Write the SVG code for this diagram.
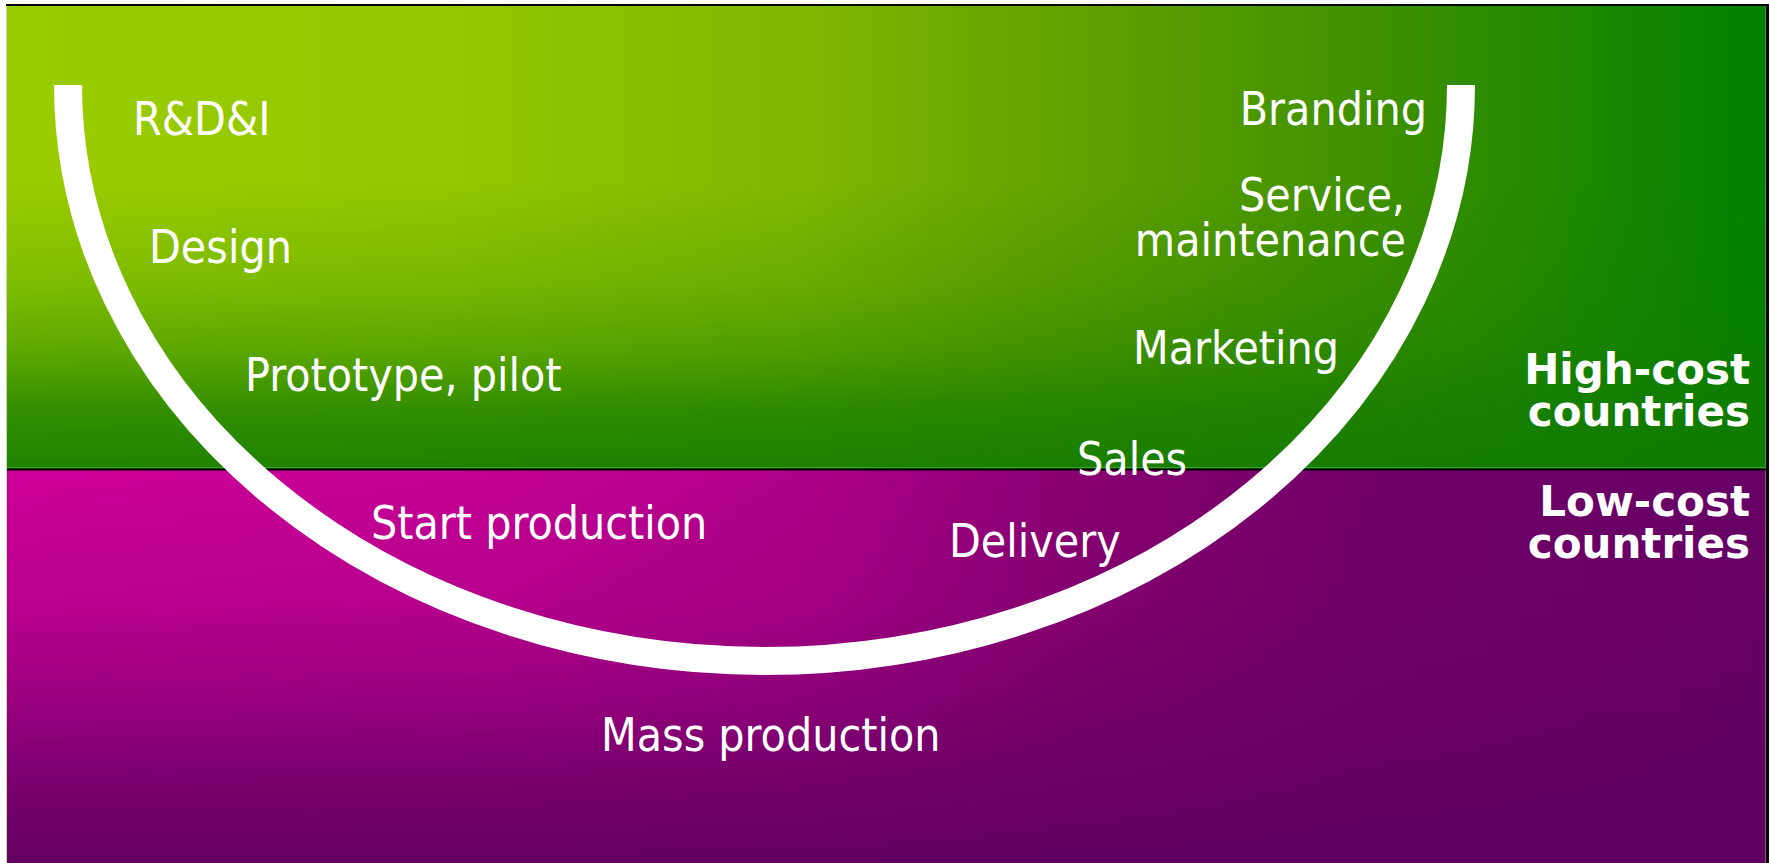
<svg xmlns="http://www.w3.org/2000/svg" width="1770" height="863" viewBox="0 0 1770 863">
  <defs>
    <!-- high-cost band: yellow-green on the left fading to deep green on the right -->
    <linearGradient id="greenH" gradientUnits="userSpaceOnUse" x1="7" y1="0" x2="1766" y2="0">
      <stop offset="0" stop-color="#9acd00"/>
      <stop offset="0.25" stop-color="#93c700"/>
      <stop offset="0.45" stop-color="#80b800"/>
      <stop offset="0.57" stop-color="#69a500"/>
      <stop offset="0.78" stop-color="#3e9000"/>
      <stop offset="1" stop-color="#008000"/>
    </linearGradient>
    <!-- darkening toward the bottom of the green band -->
    <linearGradient id="greenV" gradientUnits="userSpaceOnUse" x1="0" y1="6" x2="0" y2="468">
      <stop offset="0" stop-color="#117a00" stop-opacity="0"/>
      <stop offset="0.38" stop-color="#117a00" stop-opacity="0"/>
      <stop offset="0.6" stop-color="#117a00" stop-opacity="0.2"/>
      <stop offset="0.75" stop-color="#117a00" stop-opacity="0.45"/>
      <stop offset="0.87" stop-color="#117a00" stop-opacity="0.74"/>
      <stop offset="1" stop-color="#117a00" stop-opacity="0.9"/>
    </linearGradient>
    <!-- low-cost band: magenta on the left fading to plum on the right -->
    <linearGradient id="purpleH" gradientUnits="userSpaceOnUse" x1="7" y1="0" x2="1766" y2="0">
      <stop offset="0" stop-color="#cc0099"/>
      <stop offset="0.28" stop-color="#c40094"/>
      <stop offset="0.45" stop-color="#b0008a"/>
      <stop offset="0.6" stop-color="#8a0072"/>
      <stop offset="0.77" stop-color="#720068"/>
      <stop offset="1" stop-color="#660066"/>
    </linearGradient>
    <linearGradient id="purpleV" gradientUnits="userSpaceOnUse" x1="0" y1="470" x2="0" y2="863">
      <stop offset="0" stop-color="#600060" stop-opacity="0"/>
      <stop offset="0.33" stop-color="#600060" stop-opacity="0.15"/>
      <stop offset="0.58" stop-color="#600060" stop-opacity="0.45"/>
      <stop offset="0.79" stop-color="#600060" stop-opacity="0.75"/>
      <stop offset="1" stop-color="#600060" stop-opacity="0.97"/>
    </linearGradient>
  </defs>
  <style>
    .lbl { font-family: "DejaVu Sans Condensed", "Liberation Sans", sans-serif; font-size: 46px; fill: #ffffff; }
    .zone { font-family: "DejaVu Sans", "Verdana", sans-serif; font-weight: bold; font-size: 42px; fill: #ffffff; text-anchor: end; }
    .frame { stroke: #000000; fill: none; }
  </style>

  <!-- background bands -->
  <g id="bands">
    <rect x="7" y="6" width="1759" height="463" fill="url(#greenH)"/>
    <rect x="7" y="6" width="1759" height="463" fill="url(#greenV)"/>
    <rect x="7" y="470" width="1759" height="393" fill="url(#purpleH)"/>
    <rect x="7" y="470" width="1759" height="393" fill="url(#purpleV)"/>
    <line x1="7" y1="467.5" x2="1766" y2="467.5" stroke="#3fa030" stroke-width="1"/>
    <line x1="6.5" y1="6" x2="6.5" y2="863" stroke="#c9d9b0" stroke-width="1"/>
    <line x1="1765.5" y1="6" x2="1765.5" y2="469" stroke="#3c9a30" stroke-width="1"/>
    <line x1="1765.5" y1="470" x2="1765.5" y2="863" stroke="#9a4a96" stroke-width="1"/>
    <line class="frame" x1="6" y1="5" x2="1769" y2="5" stroke-width="2"/>
    <line class="frame" x1="1767.5" y1="4" x2="1767.5" y2="863" stroke-width="3"/>
    <line class="frame" x1="7" y1="469.5" x2="1766" y2="469.5" stroke-width="2"/>
  </g>

  <!-- value curve -->
  <g id="curve">
    <path d="M 68 85 A 696.5 576 0 0 0 1461 85" fill="none" stroke="#ffffff" stroke-width="28" stroke-linecap="butt"/>
  </g>

  <g id="rdi"><text class="lbl" x="133" y="135">R&amp;D&amp;I</text></g>
  <g id="design"><text class="lbl" x="149" y="263">Design</text></g>
  <g id="prototype"><text class="lbl" x="245" y="391">Prototype, pilot</text></g>
  <g id="start-production"><text class="lbl" x="371" y="539">Start production</text></g>
  <g id="mass-production"><text class="lbl" x="601" y="751">Mass production</text></g>
  <g id="delivery"><text class="lbl" x="949" y="557">Delivery</text></g>
  <g id="sales"><text class="lbl" x="1077" y="475">Sales</text></g>
  <g id="marketing"><text class="lbl" x="1133" y="364">Marketing</text></g>
  <g id="service"><text class="lbl" x="1405" y="211" text-anchor="end">Service,</text><text class="lbl" x="1406" y="256" text-anchor="end">maintenance</text></g>
  <g id="branding"><text class="lbl" x="1427" y="125" text-anchor="end">Branding</text></g>

  <g id="high-cost"><text class="zone" x="1750" y="384">High-cost</text><text class="zone" x="1750" y="426">countries</text></g>
  <g id="low-cost"><text class="zone" x="1750" y="516">Low-cost</text><text class="zone" x="1750" y="558">countries</text></g>
</svg>
